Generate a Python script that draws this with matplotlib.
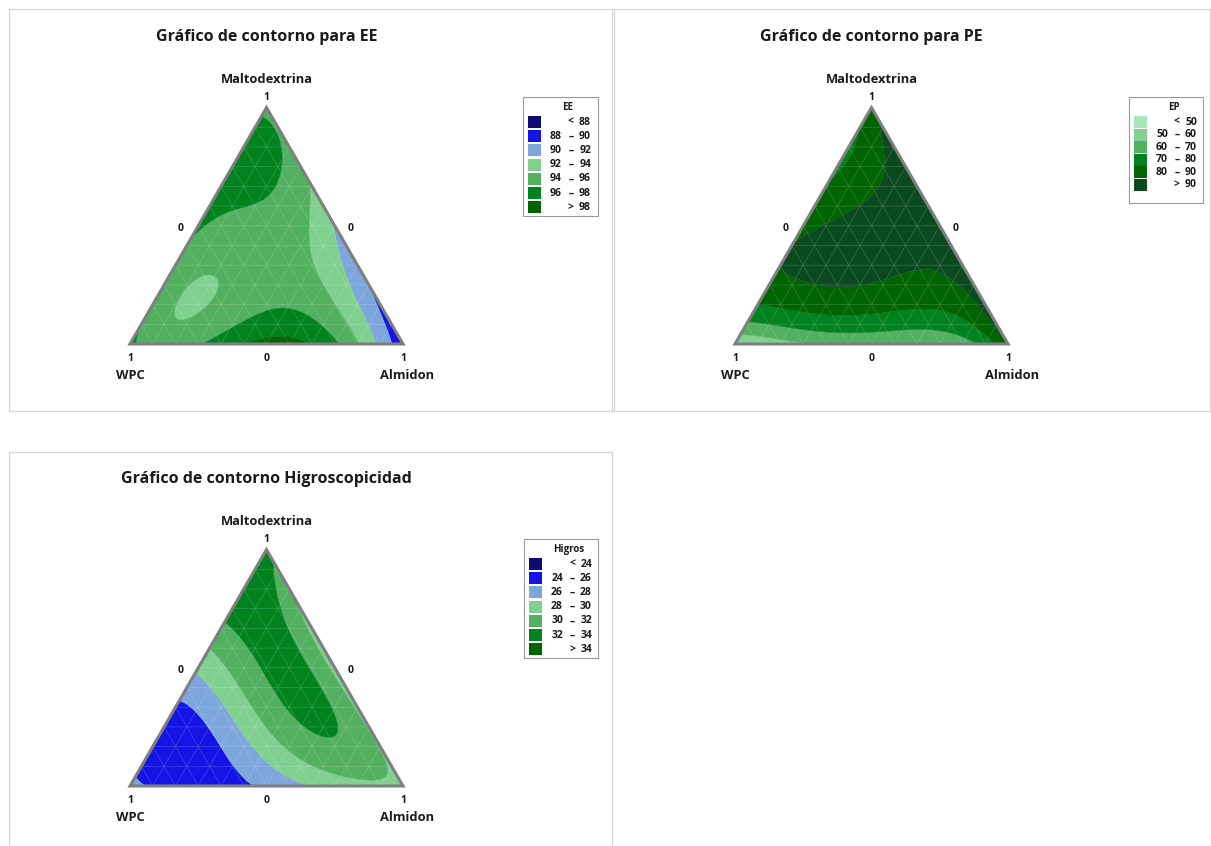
import numpy as np
import matplotlib
matplotlib.use("Agg")
import matplotlib.pyplot as plt
import matplotlib.tri as mtri
from matplotlib.patches import Polygon, Rectangle

plt.rcParams["font.family"] = ["Open Sans", "DejaVu Sans"]

# --- response estimates (WPC, Maltodextrina, Almidon) ---
EE_WPC = [1, 0, 0, 0.667, 0.333, 0, 0, 0.667, 0.333, 0.45, 0.2, 0.1, 0.85,
          0.333, 0.627, 0.4, 0.2, 0.15, 0.1, 0.1, 0.3, 0.5, 0.5,
          0.8, 0.42, 0.54, 0.64, 0.698, 0.549, 0.72, 0.522, 0.704, 0.521, 0]
EE_MALTO = [0, 1, 0, 0.333, 0.667, 0.667, 0.333, 0, 0, 0, 0, 0, 0,
            0.333, 0.212, 0.5, 0.7, 0.45, 0.35, 0.2, 0.1, 0.1, 0.3,
            0.1, 0.356, 0.4, 0.1, 0.165, 0.258, 0.229, 0.186, 0.08, 0.335, 0.2]
EE_ALMIDON = [0, 0, 1, 0, 0, 0.333, 0.667, 0.333, 0.667, 0.55, 0.8, 0.9, 0.15,
              0.333, 0.161, 0.1, 0.1, 0.4, 0.55, 0.7, 0.6, 0.4, 0.2,
              0.1, 0.224, 0.06, 0.26, 0.137, 0.193, 0.051, 0.292, 0.216, 0.144, 0.8]
EE_VALUE = [96.3, 95.4, 88.8, 95.3, 97.0, 93.8, 90.8, 96.0, 98.2, 99.0, 94.5, 92.0, 95.2,
            95.0, 93.5, 95.8, 96.6, 94.3, 93.0, 92.2, 97.2, 96.0, 94.3,
            94.6, 94.6, 95.3, 95.6, 93.7, 93.7, 94.4, 94.5, 94.6, 94.6, 89.6]
EE_WEIGHT = [1, 1, 1, 1, 1, 1, 1, 1, 1, 1, 1, 1, 1,
             1, 4, 1, 1, 1, 1, 1, 1, 1, 1,
             2, 2, 1, 1, 3, 3, 2, 2, 2, 2, 1]

EP_WPC = [1, 0.91, 0.83, 0.74, 0.67, 0.6, 0.52, 0.35, 0.2, 0,
          0.8, 0.5, 0.2, 0.1, 0,
          0, 0, 0, 0,
          0.5, 0.3, 0.55, 0.2, 0.15, 0.05, 0.25, 0.05, 0.2, 0.6, 0.45, 0.1, 0.3,
          0.6, 0.45, 0.25, 0.2, 0.05, 0.6, 0.45, 0.8, 0.05, 0.2]
EP_MALTO = [0, 0.09, 0.17, 0.26, 0.33, 0.4, 0.48, 0.65, 0.8, 1,
            0, 0, 0, 0, 0,
            0.2, 0.4, 0.6, 0.8,
            0.35, 0.45, 0.3, 0.55, 0.75, 0.85, 0.65, 0.75, 0.65, 0.3, 0.45, 0.85, 0.6,
            0.2, 0.2, 0.25, 0.15, 0.2, 0.1, 0.05, 0.1, 0.1, 0.29]
EP_ALMIDON = [0, 0, 0, 0, 0, 0, 0, 0, 0, 0,
              0.2, 0.5, 0.8, 0.9, 1,
              0.8, 0.6, 0.4, 0.2,
              0.15, 0.25, 0.15, 0.25, 0.1, 0.1, 0.1, 0.2, 0.15, 0.1, 0.1, 0.05, 0.1,
              0.2, 0.35, 0.5, 0.65, 0.75, 0.3, 0.5, 0.1, 0.85, 0.51]
EP_VALUE = [54, 65, 75, 88, 93, 92, 86, 78, 79, 86,
            58, 63, 64, 70, 91,
            92, 94, 95, 93,
            93, 94, 93, 92, 88, 87, 86, 90.5, 88, 92.5, 91, 86.5, 85,
            86, 89, 87, 80, 91, 75, 68, 72, 86, 89.5]
EP_WEIGHT = [1, 1, 1, 2, 3, 2, 2, 1, 1, 1,
             1, 1, 1, 1, 1,
             1, 1, 1, 1,
             1, 1, 2, 1, 3, 2, 3, 1, 3, 2, 1, 2, 2,
             1, 1, 1, 1, 1, 1, 1, 1, 1, 1]

HIG_WPC = [1, 0.8, 0.61, 0.515, 0.43, 0.32, 0.15, 0, 0.75, 0.515, 0.39, 0.2, 0.1, 0,
           0, 0, 0, 0.106, 0.154, 0.113, 0.05, 0.333, 0.6, 0.4, 0.2, 0.4,
           0.2, 0.25, 0.05, 0.25]
HIG_MALTO = [0, 0.2, 0.39, 0.485, 0.57, 0.68, 0.85, 1, 0, 0, 0, 0, 0, 0,
             0.3, 0.6, 0.83, 0.196, 0.59, 0.38, 0.5, 0.333, 0.2, 0.4, 0.2, 0.2,
             0.25, 0.45, 0.3, 0.1]
HIG_ALMIDON = [0, 0, 0, 0, 0, 0, 0, 0, 0.25, 0.485, 0.61, 0.8, 0.9, 1,
               0.7, 0.4, 0.17, 0.698, 0.256, 0.507, 0.45, 0.333, 0.2, 0.2, 0.6, 0.4,
               0.55, 0.3, 0.65, 0.65]
HIG_VALUE = [26.8, 24.8, 26.0, 28.0, 30.0, 32.0, 33.5, 33.0, 24.8, 26.0, 28.0, 29.2, 29.4, 29.6,
             29.3, 29.4, 30.0, 32.3, 33.0, 32.8, 31.0, 31.0, 26.5, 29.5, 31.5, 29.0,
             32.3, 31.8, 30.8, 30.5]

EE_LEVELS = [88, 90, 92, 94, 96, 98]
EP_LEVELS = [50, 60, 70, 80, 90]
HIG_LEVELS = [24, 26, 28, 30, 32, 34]

BLUE_GREEN = ["#0c0c72", "#1414e6", "#7ca6dc", "#80d090", "#52b060", "#00821e", "#006400"]
EP_COLORS = ["#a8e4bc", "#80d090", "#52b060", "#00821e", "#006400", "#0a4a1e"]

W, H = 1211, 846
SIDE = 273.0
SQ3 = np.sqrt(3) / 2


def cubic_terms(a, b, c):
    # Scheffe full cubic plus the three special-quartic blending terms
    return np.column_stack([a, b, c, a * b, a * c, b * c,
                            a * b * (a - b), a * c * (a - c), b * c * (b - c), a * b * c,
                            a * a * b * c, a * b * b * c, a * b * c * c])


def quartic_terms(a, b, c):
    # Scheffe full quartic
    return np.column_stack([cubic_terms(a, b, c),
                            a * b * (a - b) ** 2, a * c * (a - c) ** 2, b * c * (b - c) ** 2])


def fit_surface(terms, wpc, malto, alm, val, weight=None):
    X = terms(np.asarray(wpc, float), np.asarray(malto, float), np.asarray(alm, float))
    y = np.asarray(val, float)
    if weight is not None:
        w = np.sqrt(np.asarray(weight, float))
        X, y = X * w[:, None], y * w
    coef, *_ = np.linalg.lstsq(X, y, rcond=None)
    return coef


def simplex_grid(n):
    b, c = [], []
    for j in range(n + 1):
        for i in range(n + 1 - j):
            b.append(j / n)
            c.append(i / n)
    b, c = np.array(b), np.array(c)
    a = np.clip(1 - b - c, 0, 1)
    return a, b, c


def legend_labels(levels):
    rows = [("", "<", str(levels[0]))]
    for lo, hi in zip(levels[:-1], levels[1:]):
        rows.append((str(lo), "–", str(hi)))
    rows.append(("", ">", str(levels[-1])))
    return rows


def draw_panel(fig, frame, bl, title, levels, colors, terms, surf, leg_title, leg_box, row_y):
    left, top, right, bottom = frame
    blx, bly = bl
    ax = fig.add_axes([left / W, 1 - bottom / H, (right - left) / W, (bottom - top) / H])
    ax.set_xlim((left - blx) / SIDE, (right - blx) / SIDE)
    ax.set_ylim((bly - bottom) / SIDE, (bly - top) / SIDE)
    ax.set_xticks([])
    ax.set_yticks([])
    for sp in ax.spines.values():
        sp.set_color("#d6d6d6")
        sp.set_linewidth(0.9)

    def P(px, py):
        return (px - blx) / SIDE, (bly - py) / SIDE

    # contour fill
    a, b, c = simplex_grid(90)
    z = terms(a, b, c) @ surf
    tri = mtri.Triangulation(c + b / 2, b * SQ3)
    bounds = [-1e9] + list(levels) + [1e9]
    ax.tricontourf(tri, z, levels=bounds, colors=colors, antialiased=True)
    ax.tricontour(tri, z, levels=list(levels), colors=colors[1:], linewidths=0.4)

    # faint mesh texture
    a2, b2, c2 = simplex_grid(12)
    mesh = mtri.Triangulation(c2 + b2 / 2, b2 * SQ3)
    ax.triplot(mesh, color="white", alpha=0.2, lw=0.5)

    ax.add_patch(Polygon([[0, 0], [1, 0], [0.5, SQ3]], closed=True, fill=False,
                         edgecolor="#7f7f7f", lw=2.2, joinstyle="miter", zorder=5))

    # labels
    ax.text(*P(blx + SIDE / 2, bly - 307), title, ha="center", va="center",
            fontsize=11.5, weight="bold", color="#1a1a1a")
    ax.text(*P(blx + SIDE / 2, bly - 265), "Maltodextrina", ha="center", va="center",
            fontsize=9.3, weight="bold", color="#1a1a1a")
    tk = dict(ha="center", va="center", fontsize=7.5, weight="bold", color="#1a1a1a")
    ax.text(*P(blx + SIDE / 2, bly - 247), "1", **tk)
    ax.text(*P(blx + 51, bly - 116), "0", **tk)
    ax.text(*P(blx + 221, bly - 116), "0", **tk)
    ax.text(*P(blx, bly + 14), "1", **tk)
    ax.text(*P(blx + SIDE / 2, bly + 14), "0", **tk)
    ax.text(*P(blx + SIDE, bly + 14), "1", **tk)
    lab = dict(ha="center", va="center", fontsize=9.3, weight="bold", color="#1a1a1a")
    ax.text(*P(blx, bly + 31), "WPC", **lab)
    ax.text(*P(blx + SIDE + 4, bly + 31), "Almidon", **lab)

    # legend
    lx0, ly0, lx1, ly1 = leg_box
    x0, y0 = P(lx0, ly1)
    x1, y1 = P(lx1, ly0)
    ax.add_patch(Rectangle((x0, y0), x1 - x0, y1 - y0, fill=False,
                           edgecolor="#9a9a9a", lw=0.8))
    ax.text(*P(lx0 + 45, ly0 + 10), leg_title, ha="center", va="center",
            fontsize=7, weight="bold", color="#1a1a1a")
    lt = dict(va="center", fontsize=7.5, weight="bold", color="#1a1a1a")
    for k, (lo, sym, hi) in enumerate(legend_labels(levels)):
        ry = row_y[0] + k * row_y[1]
        sx, sy = P(lx0 + 5, ry + 6)
        ax.add_patch(Rectangle((sx, sy), 13 / SIDE, 12 / SIDE, facecolor=colors[k],
                               edgecolor="none"))
        if lo:
            ax.text(*P(lx0 + 39, ry), lo, ha="right", **lt)
        ax.text(*P(lx0 + 48, ry), sym, ha="center", **lt)
        ax.text(*P(lx0 + 68, ry), hi, ha="right", **lt)
    return ax


fig = plt.figure(figsize=(W / 100, H / 100), dpi=100)
fig.patch.set_facecolor("white")

ee = fit_surface(quartic_terms, EE_WPC, EE_MALTO, EE_ALMIDON, EE_VALUE, EE_WEIGHT)
ep = fit_surface(quartic_terms, EP_WPC, EP_MALTO, EP_ALMIDON, EP_VALUE, EP_WEIGHT)
hg = fit_surface(cubic_terms, HIG_WPC, HIG_MALTO, HIG_ALMIDON, HIG_VALUE)

draw_panel(fig, (9, 9, 612, 411), (130, 344), "Gráfico de contorno para EE",
           EE_LEVELS, BLUE_GREEN, quartic_terms, ee, "EE", (523, 97, 598, 216), (122, 14.2))
draw_panel(fig, (614, 9, 1210, 411), (735, 344), "Gráfico de contorno para PE",
           EP_LEVELS, EP_COLORS, quartic_terms, ep, "EP", (1129, 97, 1203, 203), (122, 12.5))
draw_panel(fig, (9, 452, 612, 850), (130, 786), "Gráfico de contorno Higroscopicidad",
           HIG_LEVELS, BLUE_GREEN, cubic_terms, hg, "Higros", (524, 539, 598, 658), (564, 14.2))

fig.savefig("out.png", dpi=100)
